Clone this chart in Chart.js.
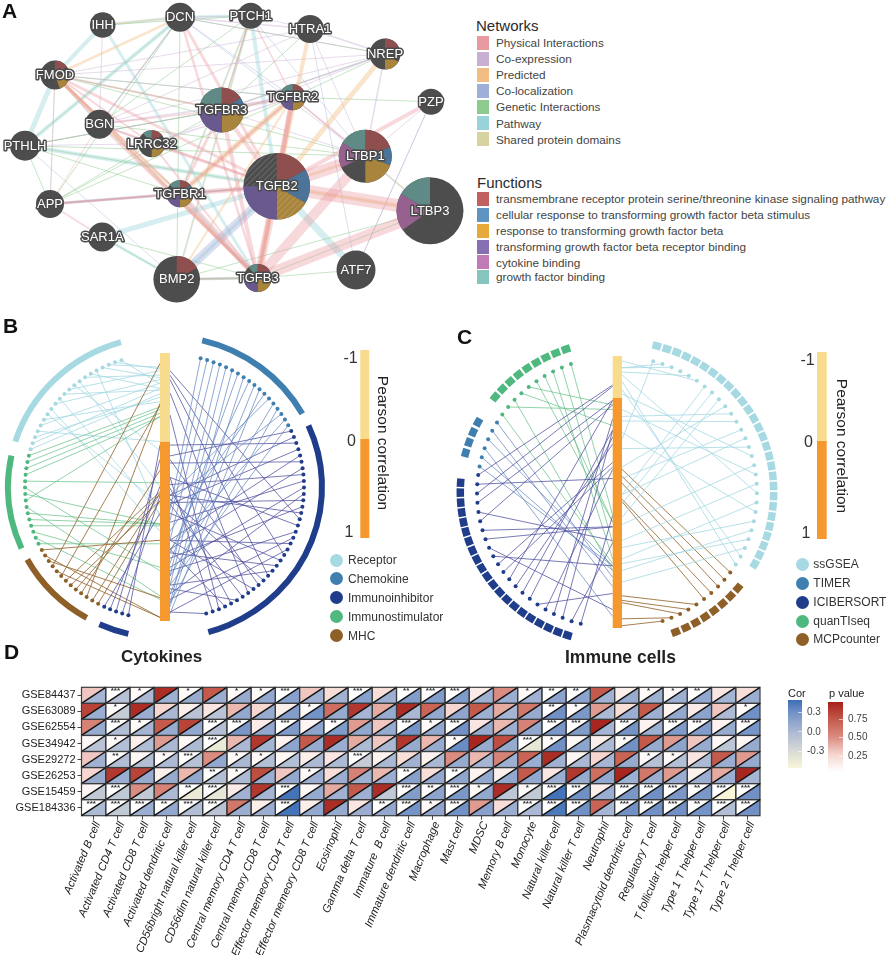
<!DOCTYPE html>
<html>
<head>
<meta charset="utf-8">
<script src="https://cdn.jsdelivr.net/npm/chart.js@4"></script>
<style>
  html, body { margin: 0; padding: 0; background: #fff; }
  body { position: relative; width: 886px; height: 955px; overflow: hidden; font-family: "Liberation Sans", Arial, sans-serif; color: #2b2b2b; }
  canvas { position: absolute; }
  .t { position: absolute; white-space: pre; transform: translateY(-50%); line-height: 1; }
  .sw { position: absolute; }
</style>
</head>
<body>
<canvas id="netChart" width="470" height="315" style="left:0;top:0"></canvas>
<canvas id="cytoChart" width="440" height="325" style="left:0;top:325px"></canvas>
<canvas id="cellChart" width="446" height="325" style="left:440px;top:325px"></canvas>
<canvas id="heatChart" width="886" height="285" style="left:0;top:670px"></canvas>
<script>
// ---- panel A: network
const nodeNames = ['IHH','DCN','PTCH1','HTRA1','NREP','FMOD','TGFBR3','TGFBR2','PZP','BGN','LRRC32','PTHLH','LTBP1','TGFB2','TGFBR1','LTBP3','APP','SAR1A','BMP2','TGFB3','ATF7'];
const nodeX = [102.7,180,250.7,310,385,55,221.7,292.7,431,99.3,151.7,25,365.3,276.7,180,430,50,102.3,176.7,257.7,356];
const nodeY = [25,17.3,15.7,29,54,75,110,97.3,101.7,124.3,143.7,145.7,156.3,186.3,193.7,210.7,204,237,279.3,278,270];
const nodeSize = [12.8,14.5,13,14,15.5,14.5,22.5,13,13,14.5,13.5,15,26.5,33.3,13.5,33.5,14,14.5,23.3,14,19.5];
// slices clockwise from 12 o'clock: [function index, degrees], -1 = no function
const nodePies = {
  NREP: [[0,60],[-1,60],[2,60]],
  FMOD: [[0,55],[-1,35],[2,70]],
  TGFBR3: [[0,58],[1,32],[2,90],[3,90],[-1,20],[5,70]],
  TGFBR2: [[0,70],[1,40],[2,70],[3,70],[-1,50],[5,60]],
  LRRC32: [[0,50],[-1,50],[2,80],[-1,140],[5,40]],
  LTBP1: [[0,70],[1,40],[2,70],[-1,65],[4,55],[5,60]],
  TGFB2: [[0,60],[1,60],[2,60],[3,90]],
  TGFBR1: [[0,50],[1,60],[2,70],[3,90],[-1,40],[5,50]],
  LTBP3: [[-1,235],[4,65],[5,60]],
  BMP2: [[0,60]],
  TGFB3: [[0,60],[1,40],[2,80],[3,100],[-1,40],[5,40]]
};
const physicalEdges = [['TGFB2','LTBP3',13],['TGFB3','LTBP3',11],['TGFB3','LTBP1',10],['TGFB2','LTBP1',12],['TGFB2','TGFB3',8],['TGFB2','TGFBR2',5],['TGFB2','TGFBR1',5],['TGFB2','TGFBR3',4],['TGFB3','TGFBR1',6],['TGFB3','TGFBR2',5],['TGFB3','TGFBR3',4],['TGFBR1','TGFBR2',3],['TGFBR1','TGFBR3',3],['TGFBR2','TGFBR3',3],['FMOD','TGFB3',3],['FMOD','TGFB2',3],['FMOD','TGFBR1',2],['DCN','TGFB2',3],['DCN','TGFB3',2.5],['PZP','TGFB2',4],['BGN','TGFB2',2],['BGN','TGFB3',2],['APP','TGFB2',2],['APP','TGFBR1',2],['APP','FMOD',1],['APP','BGN',1],['APP','SAR1A',1.5],['LTBP1','TGFBR2',2],['LRRC32','TGFB2',3],['LRRC32','TGFB3',2],['BMP2','TGFB3',2],['PTCH1','TGFBR3',1.5],['FMOD','TGFBR3',2],['BGN','TGFBR3',1.5],['FMOD','LRRC32',2],['PTCH1','TGFBR2',1.5]];
const coexpressionEdges = [['HTRA1','NREP',1.5],['HTRA1','DCN',1.5],['HTRA1','FMOD',1],['NREP','TGFBR3',1.5],['NREP','LTBP1',1.5],['NREP','DCN',1],['NREP','BGN',1],['PZP','LTBP1',1],['PZP','ATF7',1],['HTRA1','LTBP1',1],['BGN','DCN',1.5],['FMOD','BGN',1.5],['BGN','LRRC32',1.5],['PTHLH','LRRC32',1],['BGN','TGFBR2',1.5],['LRRC32','TGFBR2',1.5],['DCN','PTCH1',1],['PTCH1','HTRA1',1],['TGFBR3','LTBP1',1],['FMOD','TGFBR2',1],['IHH','BGN',1],['PTHLH','TGFBR3',1],['HTRA1','BGN',1],['NREP','FMOD',1],['NREP','LRRC32',1]];
const predictedEdges = [['NREP','TGFB2',5],['HTRA1','TGFB2',4],['TGFBR1','TGFBR2',6],['FMOD','TGFB3',4],['FMOD','TGFBR1',2],['DCN','FMOD',2.5],['TGFB3','TGFBR2',3],['TGFB2','LTBP3',4],['BMP2','TGFBR2',2],['TGFB2','TGFB3',3],['PTCH1','BMP2',1],['IHH','DCN',1.5],['LTBP1','TGFB2',3],['PTCH1','TGFBR1',1]];
const colocalizationEdges = [['BMP2','TGFB2',9],['DCN','LTBP1',1],['HTRA1','ATF7',1],['TGFBR2','LTBP3',1],['PTHLH','BMP2',1],['APP','TGFBR1',3],['PTCH1','LTBP1',1],['DCN','TGFBR2',1],['TGFBR1','TGFB2',2],['FMOD','TGFB3',1],['PZP','ATF7',1]];
const geneticEdges = [['PZP','TGFBR2',1],['NREP','TGFBR3',1],['NREP','DCN',1],['PTHLH','TGFBR2',1],['PTHLH','TGFBR3',1],['BGN','DCN',1],['FMOD','TGFBR2',1],['PTHLH','DCN',1],['PTHLH','TGFB2',1],['PTHLH','APP',1],['PTHLH','TGFBR1',1],['APP','TGFBR3',1],['APP','DCN',1],['APP','TGFBR2',1],['APP','LRRC32',1],['PTCH1','TGFBR3',1],['PTCH1','BGN',1],['BMP2','TGFB3',1.5],['BMP2','LTBP3',1],['TGFB3','ATF7',1],['TGFB3','LTBP3',1],['SAR1A','BMP2',1],['HTRA1','TGFBR3',1],['NREP','TGFBR2',1],['BGN','LTBP1',1],['FMOD','TGFBR3',1],['BGN','TGFBR1',1],['DCN','BMP2',1],['FMOD','LTBP1',1],['PTHLH','LTBP1',1],['IHH','PTCH1',1],['APP','TGFB2',1],['SAR1A','TGFB3',1]];
const pathwayEdges = [['IHH','FMOD',4],['IHH','DCN',3],['DCN','PTCH1',3],['PTCH1','TGFB2',4],['FMOD','PTHLH',5],['PTHLH','DCN',4],['PTHLH','TGFB2',4],['SAR1A','TGFB2',5],['TGFB2','ATF7',7],['TGFBR1','TGFB3',2],['IHH','TGFB3',3],['SAR1A','BMP2',3],['BMP2','TGFB3',3],['PTCH1','BMP2',2],['BMP2','TGFB2',3],['FMOD','APP',1],['PTCH1','TGFBR1',2]];
const domainEdges = [['LTBP1','LTBP3',2],['TGFB2','TGFB3',2],['FMOD','BGN',1],['TGFBR1','TGFBR2',1.5],['TGFB2','LTBP3',1]];

const networkNames = ['Physical Interactions','Co-expression','Predicted','Co-localization','Genetic Interactions','Pathway','Shared protein domains'];
const functionNames = ['transmembrane receptor protein serine/threonine kinase signaling pathway','cellular response to transforming growth factor beta stimulus','response to transforming growth factor beta','transforming growth factor beta receptor binding','cytokine binding','growth factor binding'];

const receptorCor = [-.54,-.6,-.5,0,-.66,-.45,.35,.5,-.7,.4,-.58,-.8,.05,.25,-.75,-.6,.42,-.72,-.84,-.82,-.65];
const chemokineCor = [.38,.44,.55,.75,.8,.9,.68,.92,.62,.85,.96,.5,.3,.75,.9,.33,.6,.8];
const inhibitorCor = [.08,.3,.02,.35,.55,.12,.6,.24,.45,.7,.85,.34,.65,.3,-.8,.2,.72,.88,.55,.95,-.75,.4,.62,.8,-.7,.32,.1,.55,-.55,.35,.82,.26,.6,-.3,.2,.95];
const inhibitorLeftCor = [.02,.3,.1,.25,.4];
const mhcCor = [.33,.29,-.43,.16,.29,.33,.28,-.41,.98,-.88,.87,.98,.55];
const stimulatorCor = [.57,.88,.7,.47,.46,.46,.86,-.28,.46,.72,.23,-.28,-.32,-.36,-.39];

const ssgseaCor = [.18,-.72,-.72,null,-.62,-.88,.42,.46,.52,.3,.08,.1,.35,.42,.22,-.1,.55,.05,.62,-.55,.7,.15,.65,.75,.72,.8,-.2,-.4];
const mcpCor = [.31,.34,.37,.44,.45,.86,.88,.89,.96,.99];
const ciberCor = [.51,.63,.14,.09,.31,.85,.17,.14,.2,.01,.3,.28,.73,.92,.56,.56,.03,.62,.01,-.28,.35,-.31];
const timerCor = [.73,.75,.95,.73,.82,.78];
const quantiCor = [.72,.05,.75,.12,.03,.54,.54,.7,.63,.51];

const cytoLegend = ['Receptor','Chemokine','Immunoinhibitor','Immunostimulator','MHC'];
const cellLegend = ['ssGSEA','TIMER','ICIBERSORT','quanTIseq','MCPcounter'];

// ---- panel D: heatmap
const datasetsGse = ['GSE84437','GSE63089','GSE62554','GSE34942','GSE29272','GSE26253','GSE15459','GSE184336'];
const cellTypes = ['Activated B cell','Activated CD4 T cell','Activated CD8 T cell','Activated dendritic cell','CD56bright natural killer cell','CD56dim natural killer cell','Central memory CD4 T cell','Central memory CD8 T cell','Effector memeory CD4 T cell','Effector memeory CD8 T cell','Eosinophil','Gamma delta T cell','Immature  B cell','Immature dendritic cell','Macrophage','Mast cell','MDSC','Memory B cell','Monocyte','Natural killer cell','Natural killer T cell','Neutrophil','Plasmacytoid dendritic cell','Regulatory T cell','T follicular helper cell','Type 1 T helper cell','Type 17 T helper cell','Type 2 T helper cell'];
const pValues = [
  [.3,0,.03,.95,.03,.75,.03,.03,0,.3,.2,0,.2,.005,0,0,.12,.5,.03,.005,.005,.75,.1,.03,.03,.005,.15,.2],
  [.85,.03,.95,.25,.1,.15,.35,.25,.1,.03,.65,.9,.4,.95,.7,.25,.75,.4,.6,.005,.03,.45,.2,.75,.08,.12,.3,.03],
  [.55,0,.03,.75,.85,0,0,.12,0,.06,.005,.45,.3,0,.03,0,.15,.35,.55,0,0,.98,0,.08,0,0,.08,0],
  [.05,.03,.1,.45,.05,0,.35,.9,.08,.75,.95,.4,.3,.9,.35,.03,.98,.8,0,.03,.05,.1,.03,.75,.45,.3,.05,.05],
  [.3,.005,.05,.03,0,.5,.03,.03,.05,.1,.15,0,.08,.2,.08,.5,.35,.55,.7,.95,.06,.25,.7,.03,.03,.15,.75,.45],
  [.25,.9,.85,.1,.35,.005,.03,.8,.3,.03,.2,.55,.35,.005,.2,.005,.08,.1,.75,.15,.9,.65,.98,.6,.45,.08,.4,.98],
  [.06,0,.5,.55,.005,0,.12,.9,0,.05,.4,.75,.95,0,.005,0,.03,.95,.03,0,0,.1,0,0,0,.005,0,0],
  [0,0,0,.005,0,0,.6,.1,0,.1,.95,.15,.005,0,.03,0,.45,.2,0,0,0,.7,0,0,0,.005,0,0]
];
const corValues = [
  [.02,-.08,0,.06,.1,.08,.1,.12,.18,.05,.04,.18,.06,.2,.2,.22,.06,.08,.05,.16,.16,.04,.1,.06,.06,.12,.03,.08],
  [.08,-.18,.08,0,-.1,-.1,.12,.1,.2,.28,.1,.02,.1,0,.12,.14,.06,.02,.1,.3,.24,-.02,.08,.06,.12,.16,-.02,.3],
  [.1,-.05,.02,.1,.12,-.06,.25,.12,.22,.15,.22,.12,.1,.28,.12,.3,.1,.06,.12,.25,.2,.02,.28,.06,.22,.2,.1,.26],
  [-.1,-.06,-.04,0,-.02,-.45,0,.03,.15,.1,.08,-.02,0,.1,.1,.32,.1,.1,-.42,.3,.15,-.02,.3,.1,.15,.1,-.12,.1],
  [.05,-.04,-.06,-.02,-.08,.12,0,-.06,-.06,-.02,-.02,-.18,0,.04,0,.1,.02,.06,.08,.05,0,.02,.1,-.08,-.06,-.02,.08,.1],
  [.1,.08,.1,.1,.12,-.05,-.02,.08,.12,.08,.08,.06,.08,.18,.12,.14,.12,.12,.12,.08,.1,.12,.06,.08,.08,.08,.08,.02],
  [-.15,-.14,-.15,-.02,-.45,-.42,.05,.02,.45,.1,.05,.06,-.15,.2,.15,.25,.12,-.12,-.15,.45,.3,.08,.25,.3,.25,.25,-.55,.3],
  [-.02,-.15,.08,.12,-.05,-.1,.08,.08,.45,.12,.1,.08,.12,.28,.14,.3,.18,.08,0,.42,.3,.02,.3,.3,.3,.28,-.05,.3]
];

const sansFont = '"Liberation Sans", Arial, sans-serif';
Chart.defaults.font.family = sansFont;
Chart.defaults.animation = false;
Chart.defaults.responsive = false;
Chart.defaults.events = [];
Chart.defaults.plugins.legend.display = false;
Chart.defaults.plugins.tooltip.enabled = false;

// plain text and swatches around the charts
function addText(text, x, y, css) {
  const el = document.createElement('div');
  el.className = 't';
  el.textContent = text;
  el.style.cssText = `left:${x}px;top:${y}px;${css || ''}`;
  document.body.appendChild(el);
  return el;
}
function addBox(x, y, w, h, css) {
  const el = document.createElement('div');
  el.className = 'sw';
  el.style.cssText = `left:${x}px;top:${y}px;width:${w}px;height:${h}px;${css}`;
  document.body.appendChild(el);
  return el;
}

const letterCss = 'font-weight:bold;font-size:21px;color:#111;';
addText('A', 2, 10, letterCss);
addText('B', 3, 325, letterCss);
addText('C', 457, 336, letterCss);
addText('D', 4, 651, letterCss);
addText('Cytokines', 121, 656, 'font-weight:bold;font-size:17px;color:#222;');
addText('Immune cells', 565, 658, 'font-weight:bold;font-size:17.5px;color:#222;');

// legends of panel A
const networkColors = ['#e79aa0','#c9b0d3','#f2bd85','#9fb0d8','#8ecb8e','#97d3d8','#d6d3a0'];
const functionColors = ['#c06060','#5f93c2','#e5a93c','#8670b4','#c07ab5','#85c5bd'];
const legendRowsA = [42.7,58.7,74.7,90.7,106.7,123,139];
const legendRowsB = [198.7,214.7,230.7,246.7,262,276.7];
addText('Networks', 476, 25, 'font-size:15px;');
addText('Functions', 477, 181.5, 'font-size:15px;');
networkNames.forEach((name, i) => {
  addBox(476.7, legendRowsA[i] - 7, 12.6, 14, `background:${networkColors[i]}`);
  addText(name, 496, legendRowsA[i] + .6, 'font-size:11.75px;color:#444;');
});
functionNames.forEach((name, i) => {
  addBox(476.7, legendRowsB[i] - 7, 12.6, 14, `background:${functionColors[i]}`);
  addText(name, 496, legendRowsB[i] + .6, 'font-size:11.75px;color:#444;');
});

// ---- panel A chart
const dimSlice = ['#8f4f4f','#4c7498','#a8843c','#69598f','#96608f','#5f8a86'];
function hatchSector(ctx, pt, r, fromDeg, toDeg) {
  ctx.save();
  ctx.beginPath();
  ctx.moveTo(pt.x, pt.y);
  ctx.arc(pt.x, pt.y, r, (fromDeg - 90) * Math.PI / 180, (toDeg - 90) * Math.PI / 180);
  ctx.closePath();
  ctx.clip();
  ctx.strokeStyle = 'rgba(255,255,255,.22)';
  ctx.lineWidth = 1;
  for (let off = -2 * r; off < 2 * r; off += 6) {
    ctx.beginPath();
    ctx.moveTo(pt.x + off - r, pt.y + r);
    ctx.lineTo(pt.x + off + r, pt.y - r);
    ctx.stroke();
  }
  ctx.restore();
}
const piePlugin = {
  id: 'piePlugin',
  afterDatasetsDraw(chart) {
    const ctx = chart.ctx;
    const meta = chart.getDatasetMeta(0);
    ctx.save();
    meta.data.forEach((pt, i) => {
      const r = pt.options.radius;
      let start = -Math.PI / 2;
      (nodePies[nodeNames[i]] || []).forEach(([fn, deg]) => {
        const end = start + deg * Math.PI / 180;
        if (fn >= 0) {
          ctx.beginPath();
          ctx.moveTo(pt.x, pt.y);
          ctx.arc(pt.x, pt.y, r, start, end);
          ctx.closePath();
          ctx.fillStyle = dimSlice[fn];
          ctx.fill();
        }
        start = end;
      });
      if (nodeNames[i] === 'TGFB2') {
        hatchSector(ctx, pt, r, 270, 360);
        hatchSector(ctx, pt, r, 120, 180);
      }
    });
    ctx.font = `13px ${sansFont}`;
    ctx.textAlign = 'center';
    ctx.textBaseline = 'middle';
    ctx.lineJoin = 'round';
    meta.data.forEach((pt, i) => {
      ctx.lineWidth = 3;
      ctx.strokeStyle = '#4a4a4a';
      ctx.strokeText(nodeNames[i], pt.x, pt.y + .5);
      ctx.fillStyle = '#fff';
      ctx.fillText(nodeNames[i], pt.x, pt.y + .5);
    });
    ctx.restore();
  }
};

function edgeDatasets(edges, color) {
  return edges.map(([from, to, weight]) => {
    const a = nodeNames.indexOf(from), b = nodeNames.indexOf(to);
    return {
      type: 'scatter', showLine: true, pointRadius: 0, borderWidth: weight, borderColor: color,
      data: [{ x: nodeX[a], y: nodeY[a] }, { x: nodeX[b], y: nodeY[b] }]
    };
  });
}

new Chart(document.getElementById('netChart'), {
  type: 'bubble',
  data: {
    datasets: [{
      type: 'bubble',
      backgroundColor: '#4d4d4d', borderWidth: 0,
      data: nodeNames.map((n, i) => ({ x: nodeX[i], y: nodeY[i], r: nodeSize[i] }))
    }].concat(
      edgeDatasets(physicalEdges, 'rgba(232,150,158,.36)'),
      edgeDatasets(predictedEdges, 'rgba(243,190,130,.42)'),
      edgeDatasets(coexpressionEdges, 'rgba(201,176,211,.45)'),
      edgeDatasets(colocalizationEdges, 'rgba(159,176,216,.4)'),
      edgeDatasets(geneticEdges, 'rgba(142,203,142,.5)'),
      edgeDatasets(pathwayEdges, 'rgba(151,211,216,.38)'),
      edgeDatasets(domainEdges, 'rgba(214,211,160,.45)')
    )
  },
  options: {
    layout: { padding: 0, autoPadding: false },
    scales: {
      x: { type: 'linear', display: false, min: 0, max: 470 },
      y: { type: 'linear', display: false, min: 0, max: 315, reverse: true }
    },
    clip: false
  },
  plugins: [piePlugin]
});

// ---- panels B, C
function ringPoint(ring, deg) {
  const rad = deg * Math.PI / 180;
  return { x: ring.cx + ring.a * Math.sin(rad), y: ring.cy - ring.b * Math.cos(rad) };
}
function barY(bar, r) {
  return r < 0 ? bar.zero + r * (bar.zero - bar.top) : bar.zero + r * (bar.bottom - bar.zero);
}
const gapPoint = { x: NaN, y: NaN };

// outer ring: one long arc per group, or a row of squares
const ringPlugin = {
  id: 'ringPlugin',
  beforeDatasetsDraw(chart, args, opts) {
    const { ctx, scales: { x, y } } = chart;
    const ring = opts.ring;
    const cx = x.getPixelForValue(ring.cx), cy = y.getPixelForValue(ring.cy);
    const rx = x.getPixelForValue(ring.cx + ring.a) - cx, ry = y.getPixelForValue(ring.cy + ring.b) - cy;
    const arc = (from, to) => {
      ctx.beginPath();
      ctx.ellipse(cx, cy, rx, ry, 0, (from - 90) * Math.PI / 180, (to - 90) * Math.PI / 180);
      ctx.stroke();
    };
    ctx.save();
    ctx.lineWidth = opts.width;
    ctx.lineCap = 'butt';
    opts.groups.forEach(g => {
      ctx.strokeStyle = g.color;
      if (g.squares) {
        for (let i = 0; i < g.squares; i++) {
          const mid = g.arcFrom + i * (g.arcTo - g.arcFrom) / (g.squares - 1);
          arc(mid - 1.6, mid + 1.6);
        }
      } else {
        arc(g.arcFrom, g.arcTo);
      }
    });
    ctx.restore();
  }
};

function circosChart(canvasId, cfg) {
  const datasets = [];
  const thick = (x, y0, y1, color, w) => ({
    showLine: true, pointRadius: 0, borderWidth: w, borderColor: color, borderCapStyle: 'butt',
    data: [{ x, y: y0 }, { x, y: y1 }]
  });
  // central bar and its colour key, first so they are drawn on top
  const bar = cfg.bar, key = cfg.key;
  datasets.push(thick((bar.x0 + bar.x1) / 2, bar.top, bar.zero, '#f8db8c', bar.x1 - bar.x0));
  datasets.push(thick((bar.x0 + bar.x1) / 2, bar.zero, bar.bottom, '#f5992e', bar.x1 - bar.x0));
  datasets.push(thick((key.x0 + key.x1) / 2, key.top, key.zero, '#f8db8c', key.x1 - key.x0));
  datasets.push(thick((key.x0 + key.x1) / 2, key.zero, key.bottom, '#f5992e', key.x1 - key.x0));
  cfg.groups.forEach(g => {
    const dots = g.values.map((v, i) => ringPoint(cfg.dotRing, g.dotFrom + i * (g.dotTo - g.dotFrom) / (g.values.length - 1)));
    datasets.push({ showLine: false, pointRadius: 2, pointBorderWidth: 0, pointBackgroundColor: g.color, data: dots });
    // lines from dot to bar
    const lineData = [];
    g.values.forEach((v, i) => {
      if (v === null) return;
      lineData.push(dots[i], { x: g.left ? bar.x0 : bar.x1, y: barY(bar, v) }, gapPoint);
    });
    datasets.push({ showLine: true, pointRadius: 0, borderWidth: 1, borderColor: g.lineColor, data: lineData });
  });
  new Chart(document.getElementById(canvasId), {
    type: 'scatter',
    data: { datasets },
    options: {
      layout: { padding: 0, autoPadding: false },
      plugins: { ringPlugin: { ring: cfg.arcRing, width: cfg.arcWidth, groups: cfg.groups } },
      scales: {
        x: { type: 'linear', display: false, min: cfg.xMin, max: cfg.xMax },
        y: { type: 'linear', display: false, min: 325, max: 650, reverse: true }
      }
    },
    plugins: [ringPlugin]
  });
}

const lineReceptor = 'rgba(160,215,225,.75)', lineBlue = 'rgba(95,130,190,.7)', lineInhib = 'rgba(70,70,155,.72)',
  lineStim = 'rgba(110,195,140,.75)', lineMhc = 'rgba(150,105,50,.85)';

circosChart('cytoChart', {
  xMin: 0, xMax: 440,
  dotRing: { cx: 164.5, cy: 486.7, a: 139.5, b: 133 },
  arcRing: { cx: 165, cy: 487, a: 157, b: 151 },
  arcWidth: 6,
  bar: { x0: 160, x1: 170, top: 353, zero: 441.5, bottom: 621 },
  key: { x0: 360.3, x1: 369.3, top: 350, zero: 439, bottom: 538 },
  groups: [
    { values: chemokineCor, color: '#3f7fb0', lineColor: lineBlue, dotFrom: 15, dotTo: 62.5, arcFrom: 13.7, arcTo: 61 },
    { values: inhibitorCor, color: '#1f3d8a', lineColor: lineInhib, dotFrom: 65.3, dotTo: 162.6, arcFrom: 66, arcTo: 164 },
    { values: inhibitorLeftCor, color: '#1f3d8a', lineColor: lineInhib, left: true, dotFrom: 195, dotTo: 205.6, arcFrom: 193.5, arcTo: 204.7 },
    { values: mhcCor, color: '#8f5f28', lineColor: lineMhc, left: true, dotFrom: 208.4, dotTo: 241.6, arcFrom: 209.9, arcTo: 241.3 },
    { values: stimulatorCor, color: '#4fb87f', lineColor: lineStim, left: true, dotFrom: 244.6, dotTo: 283.5, arcFrom: 246, arcTo: 282 },
    { values: receptorCor, color: '#a6d9e2', lineColor: lineReceptor, left: true, dotFrom: 286.3, dotTo: 342, arcFrom: 287.5, arcTo: 343.7 }
  ]
});

circosChart('cellChart', {
  xMin: 440, xMax: 886,
  dotRing: { cx: 617, cy: 492.5, a: 140, b: 136 },
  arcRing: { cx: 617, cy: 492, a: 156.7, b: 151 },
  arcWidth: 7.5,
  bar: { x0: 612.7, x1: 622, top: 356, zero: 398, bottom: 628 },
  key: { x0: 817, x1: 826.7, top: 352, zero: 440.7, bottom: 539 },
  groups: [
    { values: ssgseaCor, color: '#a6d9e2', lineColor: lineReceptor, dotFrom: 15, dotTo: 122, arcFrom: 14.7, arcTo: 118.5, squares: 28 },
    { values: mcpCor, color: '#8f5f28', lineColor: lineMhc, dotFrom: 126, dotTo: 161, arcFrom: 129.5, arcTo: 158, squares: 8 },
    { values: ciberCor, color: '#1f3d8a', lineColor: lineInhib, left: true, dotFrom: 195, dotTo: 277.4, arcFrom: 198.4, arcTo: 273.5, squares: 21 },
    { values: timerCor, color: '#3f7fb0', lineColor: lineBlue, left: true, dotFrom: 281, dotTo: 301, arcFrom: 285, arcTo: 297.5, squares: 4 },
    { values: quantiCor, color: '#4fb87f', lineColor: lineStim, left: true, dotFrom: 305, dotTo: 340.8, arcFrom: 309, arcTo: 341, squares: 9 }
  ]
});

// key labels and round legends for B, C
function circosLabels(tickX, tickY, titleX, titleY, legendX, legendTextX, legendY, names, colors) {
  ['-1', '0', '1'].forEach((lab, i) => {
    addText(lab, tickX[i], tickY[i], 'font-size:16px;color:#333;');
  });
  const title = addText('Pearson correlation', titleX, titleY, 'font-size:15.5px;color:#222;');
  title.style.transform = 'translate(-50%,-50%) rotate(90deg)';
  names.forEach((name, i) => {
    addBox(legendX - 6.5, legendY[i] - 6.5, 13, 13, `border-radius:50%;background:${colors[i]}`);
    addText(name, legendTextX, legendY[i], 'font-size:12px;color:#333;');
  });
}
circosLabels([343.5, 347, 344.5], [358, 440.7, 532], 383, 443, 336.7, 348, [560, 578.7, 597.7, 616.7, 635.7], cytoLegend,
  ['#a6d9e2', '#3f7fb0', '#1f3d8a', '#4fb87f', '#8f5f28']);
circosLabels([800.5, 804, 801.5], [360, 442.3, 533.3], 841.5, 446, 802.3, 813.3, [564.3, 583.3, 602.3, 621, 639.3], cellLegend,
  ['#a6d9e2', '#3f7fb0', '#1f3d8a', '#4fb87f', '#8f5f28']);

// ---- panel D heatmap
function hexMix(stops, v) {
  let i = 0;
  while (i < stops.length - 2 && v > stops[i + 1][0]) i++;
  const [v0, c0] = stops[i], [v1, c1] = stops[i + 1];
  const f = Math.min(1, Math.max(0, (v - v0) / (v1 - v0)));
  const rgb = c0.map((c, k) => Math.round(c + (c1[k] - c) * f));
  return `rgb(${rgb.join(',')})`;
}
const corStops = [[-.56,[249,246,216]],[-.3,[216,218,214]],[0,[170,184,212]],[.3,[112,144,198]],[.48,[58,110,182]]];
const pStops = [[0,[255,255,255]],[.25,[245,214,208]],[.5,[219,140,128]],[.75,[196,90,76]],[1,[166,32,28]]];
const stars = p => p < .001 ? '***' : p < .01 ? '**' : p < .05 ? '*' : '';

const trianglePlugin = {
  id: 'trianglePlugin',
  beforeDatasetsDraw(chart) {
    const { ctx, scales: { x, y } } = chart;
    const w = x.getPixelForTick(1) - x.getPixelForTick(0);
    const h = y.getPixelForTick(1) - y.getPixelForTick(0);
    ctx.save();
    chart.data.datasets[0].data.forEach(cell => {
      const left = x.getPixelForValue(cell.x) - w / 2, top = y.getPixelForValue(cell.y) - h / 2;
      ctx.beginPath();
      ctx.moveTo(left, top); ctx.lineTo(left + w, top); ctx.lineTo(left, top + h); ctx.closePath();
      ctx.fillStyle = hexMix(pStops, cell.p);
      ctx.fill();
      ctx.beginPath();
      ctx.moveTo(left + w, top); ctx.lineTo(left + w, top + h); ctx.lineTo(left, top + h); ctx.closePath();
      ctx.fillStyle = hexMix(corStops, cell.cor);
      ctx.fill();
    });
    chart.data.datasets[0].data.forEach(cell => {
      const left = x.getPixelForValue(cell.x) - w / 2, top = y.getPixelForValue(cell.y) - h / 2;
      ctx.strokeStyle = '#3c3c3c';
      ctx.lineWidth = 1.2;
      ctx.strokeRect(left, top, w, h);
      ctx.beginPath();
      ctx.moveTo(left, top + h); ctx.lineTo(left + w, top);
      ctx.strokeStyle = '#111';
      ctx.lineWidth = 1.4;
      ctx.stroke();
    });
    ctx.fillStyle = '#333';
    ctx.font = `bold 8px ${sansFont}`;
    ctx.textAlign = 'center';
    ctx.textBaseline = 'middle';
    chart.data.datasets[0].data.forEach(cell => {
      const s = stars(cell.p);
      if (!s) return;
      ctx.fillText(s, x.getPixelForValue(cell.x) - w * .1, y.getPixelForValue(cell.y) - h * .26);
    });
    ctx.restore();
  }
};

const heatCells = [];
datasetsGse.forEach((gse, r) => cellTypes.forEach((cell, c) => {
  heatCells.push({ x: cell, y: gse, p: pValues[r][c], cor: corValues[r][c] });
}));

new Chart(document.getElementById('heatChart'), {
  type: 'scatter',
  data: { datasets: [{ data: heatCells, pointRadius: 0 }] },
  options: {
    layout: { padding: { top: 17.3, right: 126, left: 0, bottom: 0 }, autoPadding: false },
    scales: {
      x: {
        type: 'category', labels: cellTypes, offset: true,
        grid: { drawOnChartArea: false, drawTicks: true, tickLength: 4, color: '#444', offset: false },
        border: { display: false },
        ticks: { autoSkip: false, minRotation: 67, maxRotation: 67, labelOffset: 4, color: '#222', padding: 0, font: { size: 11.3, style: 'italic' } },
        afterFit(scale) { scale.height = 139.3; }
      },
      y: {
        type: 'category', labels: datasetsGse, offset: true,
        grid: { drawOnChartArea: false, drawTicks: true, tickLength: 4, color: '#444', offset: false },
        border: { display: false },
        ticks: { autoSkip: false, color: '#222', padding: 2, font: { size: 11 } },
        afterFit(scale) { scale.width = 81.5; }
      }
    }
  },
  plugins: [trianglePlugin]
});

// colour keys of panel D
function cssGradient(stops, hi, lo) {
  const parts = [];
  for (let i = 0; i <= 20; i++) {
    parts.push(hexMix(stops, hi + (lo - hi) * i / 20));
  }
  return `linear-gradient(to bottom, ${parts.join(',')})`;
}
addText('Cor', 788, 692.7, 'font-size:11px;color:#222;');
addText('p value', 829, 693, 'font-size:11px;color:#222;');
addBox(787.7, 700, 14.6, 68, `background:${cssGradient(corStops, .48, -.56)}`);
addBox(828.3, 702, 14.7, 70, `background:${cssGradient(pStops, 1, 0)}`);
[['0.3', 712], ['0.0', 731.7], ['-0.3', 751]].forEach(([lab, y]) => {
  addText(lab, 807, y, 'font-size:10px;color:#444;');
  addBox(798, y - .5, 4.3, 1, 'background:rgba(255,255,255,.6)');
});
[['0.75', 719], ['0.50', 737.3], ['0.25', 756]].forEach(([lab, y]) => {
  addText(lab, 848, y, 'font-size:10px;color:#444;');
  addBox(839, y - .5, 4, 1, 'background:rgba(255,255,255,.6)');
});
</script>
</body>
</html>
